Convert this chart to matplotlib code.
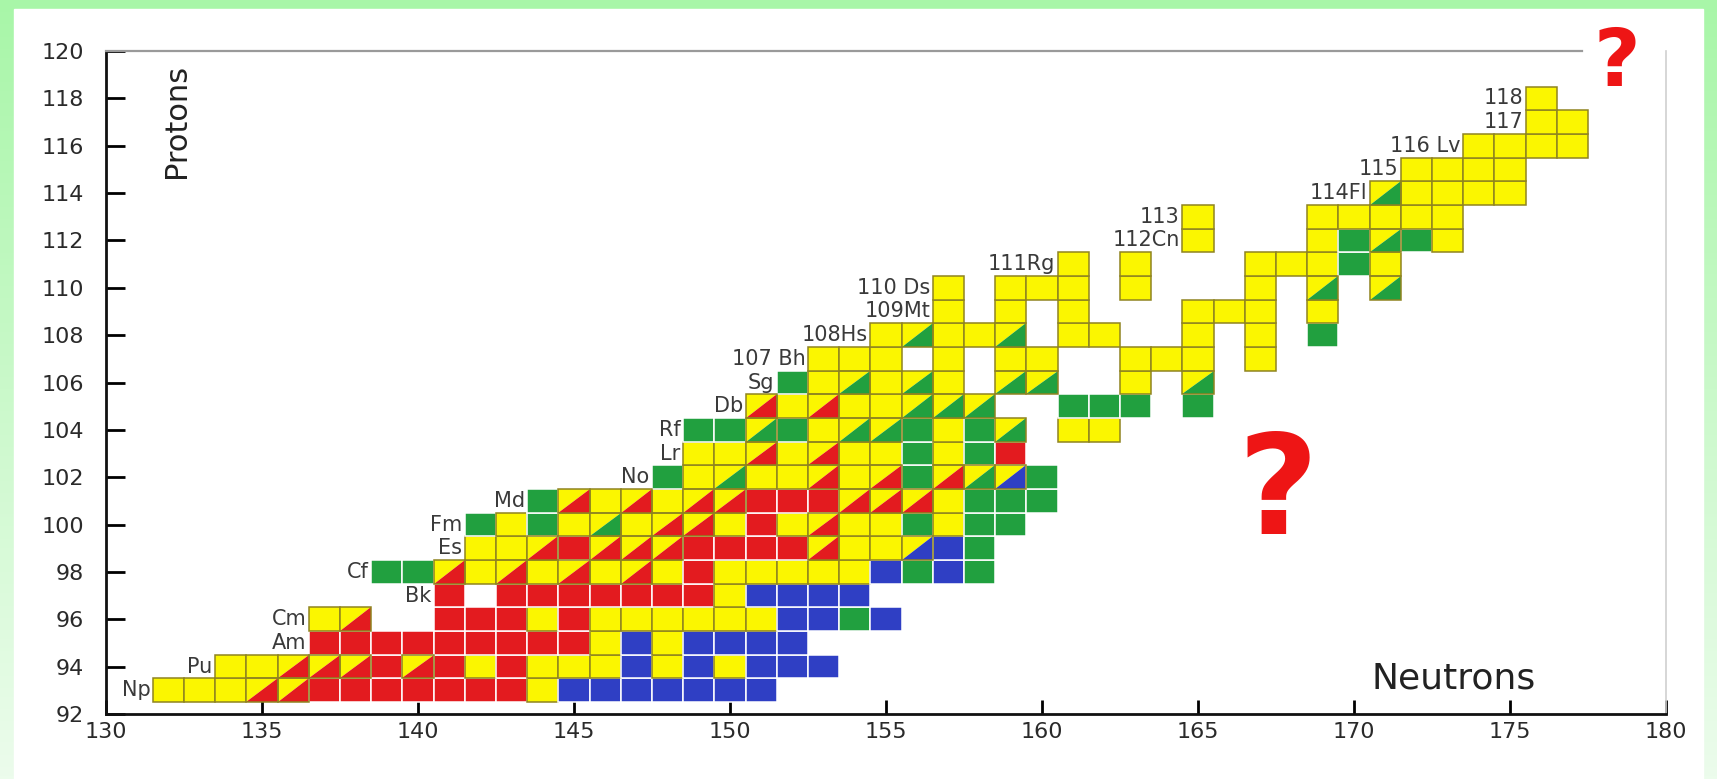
import matplotlib
matplotlib.use("Agg")
import matplotlib.pyplot as plt
from matplotlib.patches import Rectangle, Polygon
import numpy as np

# ---------------- data ----------------
# one row per proton number: first neutron number of the row and the decay
# code of each successive nuclide (Y yellow, R red, G green, B blue,
# r yellow/red, g yellow/green, b yellow/blue, . = no nuclide)
proton_numbers = [93, 94, 95, 96, 97, 98, 99, 100, 101, 102, 103, 104, 105,
                  106, 107, 108, 109, 110, 111, 112, 113, 114, 115, 116, 117, 118]
row_first_neutron = [132, 134, 137, 137, 141, 139, 142, 142, 144, 148, 149, 149, 151,
                     152, 153, 155, 157, 157, 161, 165, 165, 171, 172, 174, 176, 176]
row_decay_codes = [
    "YYYrrRRRRRRRYBBBBBBB",   # 93
    "YYrrrRrRYRYYYBYBYBBB",   # 94
    "RRRRRRRRRYBYBBBB",       # 95
    "Yr..RRRYRYYYYYYBBGB",    # 96
    "R.RRRRRRRYBBBB",         # 97
    "GGrYrYrYrYRYYYYYBGBG",   # 98
    "YYrRrrrRRRRrYYbBG",      # 99
    "GYGYgYrrYRYrYYGYGG",     # 100
    "GrYrYrrRRRrrrYGGG",      # 101
    "GYgYYrYrGrgbG",          # 102
    "YYrYrYYGYGR",            # 103
    "GGgGYggGYGg.YY",         # 104
    "rYrYYggg..GGG.G",        # 105
    "GYgYgY.gg..Y.g",         # 106
    "YYY.Y.YY..YYY.Y",        # 107
    "YgYYg.YY..Y.Y.G",        # 108
    "Y.Y.Y...YYY.Y",          # 109
    "Y.YYY.Y...Y.g.g",        # 110
    "Y.Y...YYYGY",            # 111
    "Y...YGgGY",              # 112
    "Y...YYYYY",              # 113
    "gYYYY",                  # 114
    "YYYY",                   # 115
    "YYYY",                   # 116
    "YY",                     # 117
    "Y",                      # 118
]
element_labels = ["Np", "Pu", "Am", "Cm", "Bk", "Cf", "Es", "Fm", "Md", "No", "Lr", "Rf",
                  "Db", "Sg", "107 Bh", "108Hs", "109Mt", "110 Ds", "111Rg", "112Cn",
                  "113", "114Fl", "115", "116 Lv", "117", "118"]
x_ticks = [130, 135, 140, 145, 150, 155, 160, 165, 170, 175, 180]
y_ticks = list(range(92, 121, 2))

# ---------------- style ----------------
YEL, RED, GRN, BLU = "#fbf600", "#e31b1f", "#21a03f", "#2f3fc4"
solid = {"Y": YEL, "R": RED, "G": GRN, "B": BLU}
split = {"r": (YEL, RED), "g": (YEL, GRN), "b": (YEL, BLU)}
EDGE_Y = "#8f8420"

W, H = 1717, 779
fig = plt.figure(figsize=(W / 100, H / 100), dpi=100)

# green frame background
bg = fig.add_axes([0, 0, 1, 1], zorder=-10)
grad = np.linspace(0, 1, 256)[:, None]
top_c = np.array([168, 246, 168]) / 255
bot_c = np.array([236, 252, 236]) / 255
img = top_c[None, None, :] * (1 - grad[..., None]) + bot_c[None, None, :] * grad[..., None]
bg.imshow(np.repeat(img, 2, axis=1), extent=[0, 1, 0, 1], aspect="auto", origin="upper")
bg.add_patch(Rectangle((14 / W, 0), (W - 28) / W, (H - 9) / H, color="white"))
bg.set_xlim(0, 1)
bg.set_ylim(0, 1)
bg.axis("off")

ax = fig.add_axes([106 / W, 1 - 714 / H, (1666 - 106) / W, (714 - 51) / H])
ax.set_facecolor("white")
ax.set_xlim(130, 180)
ax.set_ylim(92, 120)

for z, n0, codes, lab in zip(proton_numbers, row_first_neutron, row_decay_codes, element_labels):
    for i, c in enumerate(codes):
        if c == ".":
            continue
        n = n0 + i
        x0, y0 = n - 0.5, z - 0.5
        if c in solid:
            ec = EDGE_Y if c == "Y" else "white"
            ax.add_patch(Rectangle((x0, y0), 1, 1, facecolor=solid[c], edgecolor=ec,
                                   linewidth=1.1, zorder=3))
        else:
            ca, cb = split[c]
            ax.add_patch(Polygon([(x0, y0), (x0, y0 + 1), (x0 + 1, y0 + 1)],
                                 closed=True, facecolor=ca, edgecolor="none", zorder=3))
            ax.add_patch(Polygon([(x0, y0), (x0 + 1, y0), (x0 + 1, y0 + 1)],
                                 closed=True, facecolor=cb, edgecolor="none", zorder=3))
            ax.add_patch(Rectangle((x0, y0), 1, 1, facecolor="none", edgecolor=EDGE_Y,
                                   linewidth=1.1, zorder=4))
    ax.text(n0 - 0.58, z, lab, ha="right", va="center", fontsize=15,
            color="#3a3a3a", zorder=2)

ax.set_xticks(x_ticks)
ax.set_yticks(y_ticks)
ax.tick_params(axis="y", direction="in", length=14, width=2, pad=16,
               labelsize=16, labelcolor="#2a2a2a")
ax.tick_params(axis="x", direction="in", length=10, width=2, pad=6,
               labelsize=16, labelcolor="#2a2a2a")
for s in ("left", "bottom"):
    ax.spines[s].set_linewidth(2.0)
    ax.spines[s].set_color("#111111")
ax.spines["top"].set_color("#9a9a9a")
ax.spines["top"].set_linewidth(1.6)
ax.spines["top"].set_bounds(130, 177.3)
ax.spines["right"].set_color("#cfcfcf")
ax.spines["right"].set_linewidth(1.2)

ax.text(0.045, 0.895, "Protons", transform=ax.transAxes, rotation=90,
        ha="center", va="center", fontsize=22, color="#222222")
ax.text(0.864, 0.053, "Neutrons", transform=ax.transAxes,
        ha="center", va="center", fontsize=26, color="#222222")

fig.text(1278 / W, 1 - 496 / H, "?", ha="center", va="center", fontsize=100,
         fontweight="bold", color="#ee1515")
fig.text(1617 / W, 1 - 64 / H, "?", ha="center", va="center", fontsize=58,
         fontweight="bold", color="#ee1515")

fig.savefig("out.png", dpi=100)
